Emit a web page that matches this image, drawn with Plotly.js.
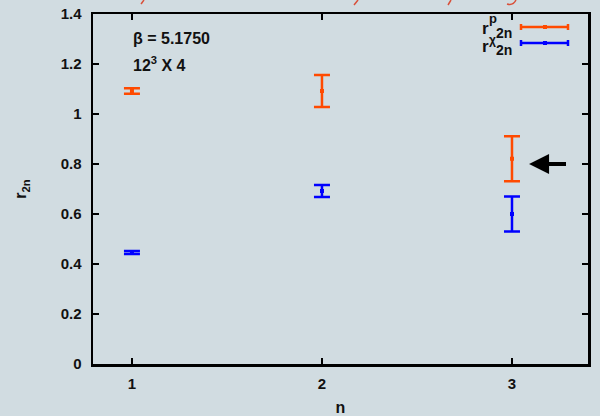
<!DOCTYPE html>
<html>
<head>
<meta charset="utf-8">
<script src="https://cdn.plot.ly/plotly-3.0.1.min.js"></script>
<style>
  html, body { margin: 0; padding: 0; background: #d1dce1; }
  #chart { width: 600px; height: 416px; }
</style>
</head>
<body>
<div id="chart"></div>
<script>
// moment ratios r_2n for n = 1, 2, 3
const nValues = [1, 2, 3];
const rPValues = [1.092, 1.092, 0.821];
const rPErrors = [0.011, 0.064, 0.09];
const rChiValues = [0.446, 0.692, 0.60];
const rChiErrors = [0.006, 0.024, 0.07];
const yTicks = [0, 0.2, 0.4, 0.6, 0.8, 1, 1.2, 1.4];
const yTickLabels = ['0', '0.2', '0.4', '0.6', '0.8', '1', '1.2', '1.4'];
const xTicks = [1, 2, 3];
const arrowLevel = 0.80;

const red = '#ff4a00';
const blue = '#0000ff';
const bg = '#d1dce1';
const font = 'Liberation Sans, Arial, sans-serif';

function seriesTrace(name, ys, errs, color) {
  return {
    type: 'scatter', mode: 'markers', name: name,
    x: nValues, y: ys,
    marker: { symbol: 'square', size: 4, color: color },
    error_y: { type: 'data', array: errs, visible: true, color: color, thickness: 2.5, width: 8 },
    showlegend: false, hoverinfo: 'skip'
  };
}

const traces = [
  seriesTrace('r_p', rPValues, rPErrors, red),
  seriesTrace('r_chi', rChiValues, rChiErrors, blue)
];

// plot frame geometry (px) used to place the key in paper units
const L = 93, R = 588, T = 14, B = 364;
const px = v => (v - L) / (R - L);
const py = v => (B - v) / (B - T);

// key sample line with end caps and a center dot
function keySample(y, color) {
  const x0 = px(521), x1 = px(568), xm = px(545);
  const cap = 3 / (B - T);
  const line = { color: color, width: 2.5 };
  return [
    { type: 'line', xref: 'paper', yref: 'paper', x0: x0, x1: x1, y0: py(y), y1: py(y), line: line },
    { type: 'line', xref: 'paper', yref: 'paper', x0: x0, x1: x0, y0: py(y) - cap, y1: py(y) + cap, line: line },
    { type: 'line', xref: 'paper', yref: 'paper', x0: x1, x1: x1, y0: py(y) - cap, y1: py(y) + cap, line: line },
    { type: 'rect', xref: 'paper', yref: 'paper', x0: xm - 2 / (R - L), x1: xm + 2 / (R - L),
      y0: py(y) - 2 / (B - T), y1: py(y) + 2 / (B - T), line: { width: 0 }, fillcolor: color }
  ];
}

// red pen strokes along the top edge
const penColor = '#d9503a';
const strokes = [
  'M 141 4 L 144 0',
  'M 354 5 L 358 0',
  'M 448 5 L 451 0',
  'M 507 4 Q 513 6 516 0'
].map(p => ({ type: 'path', xref: 'paper', yref: 'paper', path: p, line: { color: penColor, width: 1.5 } }));
// convert pixel paths to paper coordinates
strokes.forEach(s => {
  s.path = s.path.replace(/(\d+(?:\.\d+)?) (\d+(?:\.\d+)?)/g, (m, a, b) =>
    px(parseFloat(a)).toFixed(4) + ' ' + py(parseFloat(b)).toFixed(4));
});

const txt = (text, x, y, size, xanchor, yanchor, extra) => Object.assign({
  text: text, xref: 'paper', yref: 'paper', x: px(x), y: py(y),
  xanchor: xanchor, yanchor: yanchor, showarrow: false,
  font: { family: font, size: size, color: '#111', weight: 'bold' }
}, extra || {});

const annotations = [
  txt('\u03b2 = 5.1750', 131, 39, 16, 'left', 'middle'),
  txt('12<sup>3</sup> X 4', 131, 64, 16, 'left', 'middle'),
  // key labels
  txt('r', 491, 29, 17, 'right', 'middle'),
  txt('p', 487, 19, 13, 'left', 'middle'),
  txt('2n', 494, 33, 14, 'left', 'middle'),
  txt('r', 491, 46, 17, 'right', 'middle'),
  txt('\u03c7', 487, 40, 12, 'left', 'middle'),
  txt('2n', 494, 50, 14, 'left', 'middle'),
  // arrow marking the 0.8 level
  {
    xref: 'x', yref: 'y', axref: 'x', ayref: 'y',
    x: 3.09, y: arrowLevel, ax: 3.3, ay: arrowLevel,
    showarrow: true, arrowhead: 2, arrowsize: 1, arrowwidth: 4, arrowcolor: '#000', text: ' '
  }
];

const layout = {
  width: 600, height: 416,
  paper_bgcolor: bg, plot_bgcolor: bg,
  margin: { l: L, r: 600 - R, t: T, b: 416 - B },
  showlegend: false,
  font: { family: font, color: '#111', weight: 'bold' },
  xaxis: {
    range: [0.795, 3.4], tickvals: xTicks, ticktext: xTicks.map(String),
    ticks: 'inside', ticklen: 6, tickwidth: 2, tickcolor: '#000',
    showline: true, linewidth: 2.5, linecolor: '#000', mirror: 'ticks',
    showgrid: false, zeroline: false, ticklabelstandoff: 4,
    tickfont: { family: font, size: 15, color: '#111', weight: 'bold' },
    title: { text: 'n', font: { family: font, size: 16, color: '#111', weight: 'bold' }, standoff: 14 }
  },
  yaxis: {
    range: [0, 1.4], tickvals: yTicks, ticktext: yTickLabels,
    ticks: 'inside', ticklen: 6, tickwidth: 2, tickcolor: '#000',
    showline: true, linewidth: 2.5, linecolor: '#000', mirror: 'ticks',
    showgrid: false, zeroline: false, ticklabelstandoff: 6,
    tickfont: { family: font, size: 15, color: '#111', weight: 'bold' },
    title: { text: 'r<sub>2n</sub>', font: { family: font, size: 16, color: '#111', weight: 'bold' }, standoff: 30 }
  },
  shapes: [].concat(keySample(27, red), keySample(43, blue), strokes),
  annotations: annotations
};

Plotly.newPlot('chart', traces, layout, { staticPlot: true, displayModeBar: false });
</script>
</body>
</html>
